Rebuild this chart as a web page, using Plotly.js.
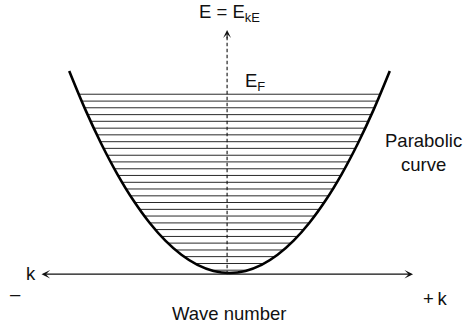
<!DOCTYPE html>
<html>
<head>
<meta charset="utf-8">
<script src="https://cdn.plot.ly/plotly-3.0.1.min.js"></script>
<style>html,body{margin:0;padding:0;background:#fff;}#chart{width:463px;height:329px;}</style>
</head>
<body>
<div id="chart"></div>
<script>
// Parabolic band E(k) (k in units of the curve's half width, E in units of its height)
var curveK = [-1.0, -0.9, -0.8, -0.7, -0.6, -0.5, -0.4, -0.3, -0.2, -0.1, 0.0, 0.1, 0.2, 0.3, 0.4, 0.5, 0.6, 0.7, 0.8, 0.9, 1.0];
var curveE = [1.0, 0.81, 0.64, 0.49, 0.36, 0.25, 0.16, 0.09, 0.04, 0.01, 0.0, 0.01, 0.04, 0.09, 0.16, 0.25, 0.36, 0.49, 0.64, 0.81, 1.0];
// Filled energy levels (horizontal lines) up to E_F
var levels = [0.885, 0.851, 0.818, 0.784, 0.751, 0.717, 0.684, 0.650, 0.617, 0.583, 0.550, 0.516, 0.483, 0.449, 0.416, 0.382, 0.349, 0.315, 0.282, 0.248, 0.215, 0.181, 0.148, 0.114, 0.081, 0.047, 0.014];
// Axes positions
var axisE = -0.006;
var kAxisLeft = -1.182, kAxisRight = 1.145;
var eAxisK = -0.015, eAxisTop = 1.203;

var FONT = 'Liberation Sans, Arial, Helvetica, sans-serif';

var lx = [], ly = [];
levels.forEach(function (e) {
  var h = Math.sqrt(e);
  lx.push(-h, h, null);
  ly.push(e, e, null);
});

var traces = [
  {type: 'scatter', mode: 'lines', x: lx, y: ly, line: {color: '#2a2a2a', width: 1}, hoverinfo: 'skip'},
  {type: 'scatter', mode: 'lines', x: curveK, y: curveE, line: {color: '#000', width: 2.6, shape: 'spline', smoothing: 1}, hoverinfo: 'skip'}
];

var ann = function (x, y, text, extra) {
  var a = {xref: 'x', yref: 'y', x: x, y: y, text: text, showarrow: false,
    font: {family: FONT, size: 18.5, color: '#111'}, xanchor: 'center', yanchor: 'middle'};
  for (var k in extra) a[k] = extra[k];
  return a;
};

var layout = {
  width: 463, height: 329,
  margin: {l: 0, r: 0, t: 0, b: 0, pad: 0},
  paper_bgcolor: '#fff', plot_bgcolor: '#fff',
  showlegend: false,
  xaxis: {range: [-1.4317, 1.4567], visible: false, fixedrange: true},
  yaxis: {range: [-0.2772, 1.3515], visible: false, fixedrange: true},
  shapes: [
    {type: 'line', xref: 'x', yref: 'y', x0: eAxisK, x1: eAxisK, y0: axisE, y1: eAxisTop - 0.03,
     line: {color: '#111', width: 1.1, dash: '3.5px,2.5px'}}
  ],
  annotations: [
    {xref: 'x', yref: 'y', axref: 'x', ayref: 'y', x: kAxisRight, y: axisE, ax: kAxisLeft, ay: axisE,
     text: '', showarrow: true, arrowside: 'end+start', arrowhead: 3, startarrowhead: 3,
     arrowwidth: 1.3, arrowsize: 1.1, startarrowsize: 1.1, arrowcolor: '#111', standoff: 0, startstandoff: 0},
    {xref: 'x', yref: 'y', axref: 'x', ayref: 'y', x: eAxisK, y: eAxisTop, ax: eAxisK, ay: eAxisTop - 0.05,
     text: '', showarrow: true, arrowhead: 3, arrowwidth: 1.1, arrowsize: 1.2, arrowcolor: '#111', standoff: 0},
    ann(-0.003, 1.285, 'E = E<sub>kE</sub>'),
    ann(0.084, 0.945, 'E<sub>F</sub>', {xanchor: 'left'}),
    ann(1.213, 0.599, 'Parabolic<br>curve'),
    ann(-1.238, -0.0025, 'k'),
    ann(-1.335, -0.099, '\u2013'),
    ann(1.282, -0.126, '+\u2009k'),
    ann(-0.003, -0.198, 'Wave number')
  ]
};

Plotly.newPlot('chart', traces, layout, {staticPlot: true, displayModeBar: false});
</script>
</body>
</html>
